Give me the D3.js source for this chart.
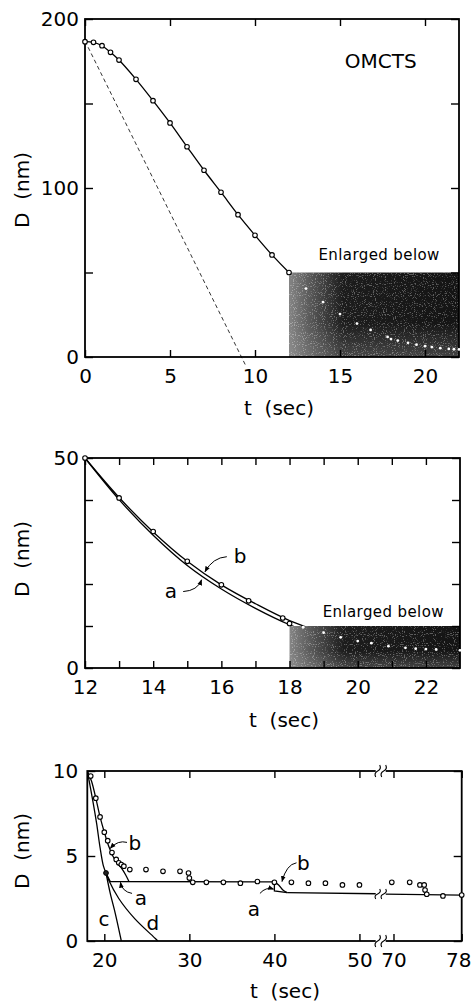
<!DOCTYPE html>
<html>
<head>
<meta charset="utf-8">
<script src="https://cdn.jsdelivr.net/npm/d3@7"></script>
<style>
  html, body { margin: 0; padding: 0; background: #fff; }
  svg { display: block; }
</style>
</head>
<body>
<svg id="chart"></svg>
<script>
// measured gap D (nm) against time t (sec), OMCTS
const tMeas = [0, 0.5, 1, 1.5, 2, 3, 4, 5, 6, 7, 8, 9, 10, 11, 12, 13, 14, 15, 16, 16.8, 17.8, 18, 18.4,
  19, 19.5, 20, 20.4, 20.9, 21.4, 21.7, 22, 22.3, 23, 24.9, 26.9, 28.9, 29.9, 30, 30.4,
  32, 34, 36, 38, 40, 42, 44, 46, 48, 50, 69.8, 71.9, 73.1, 73.6, 73.7, 73.9, 75.8, 78];
const dMeas = [186.6, 186.2, 184.2, 180.3, 175.7, 164.3, 151.7, 138.5, 124.4, 110.5, 97.5, 84.2, 72.0, 60.4, 50, 40.5, 32.5, 25.4, 19.8, 16, 11.9, 10.6, 9.7,
  8.4, 7.3, 6.4, 5.9, 5.2, 4.8, 4.6, 4.5, 4.4, 4.2, 4.2, 4.1, 4.1, 4.0, 3.7, 3.45,
  3.45, 3.45, 3.4, 3.5, 3.45, 3.45, 3.4, 3.4, 3.3, 3.3, 3.45, 3.45, 3.3, 3.3, 3.0, 2.75, 2.65, 2.7];

// dashed line in top panel
const tDash = [0, 9.45];
const dDash = [187, -5];

// middle panel model curves
const tCurve2 = [12, 13, 14, 15, 16, 17, 18, 19, 20, 21, 22, 23];
const dCurveB2 = [50, 40.6, 32.4, 25.4, 19.8, 15.3, 11.3, 8.4, 6.4, 5.0, 4.5, 4.2];
const dCurveA2 = [50, 40.1, 31.6, 24.4, 18.8, 14.2, 10.3, 7.4, 5.4, 4.1, 3.6, 3.5];

// bottom panel model curves
const tSteep = [18, 18.7, 19.1, 19.5, 19.9, 20.2];
const dSteep = [10, 8.1, 6.9, 5.5, 4.4, 4.0];
const tC = [20.2, 20.7, 21.3, 22];
const dC = [4.0, 2.8, 1.6, 0];
const tD = [20.2, 20.5, 21.7, 23.6, 26, 26.3];
const dD = [4.0, 3.6, 2.5, 1.3, 0.15, 0];
const tA = [20.2, 20.7, 40, 40, 41.5];
const dA = [4.0, 3.5, 3.48, 2.95, 2.85];
const tB = [18, 18.5, 19, 19.5, 20, 20.5, 21, 21.5, 22, 22.5, 22.9];
const dB = [10, 9.4, 8.4, 7.3, 6.4, 5.6, 5.0, 4.6, 4.3, 3.9, 3.5];
const tB40 = [40, 40.5, 41, 41.5];
const dB40 = [3.48, 3.3, 3.0, 2.85];
const tTail = [41.5, 52, 69, 78];
const dTail = [2.85, 2.78, 2.76, 2.7];
const jumpPoint = [20.2, 4.0];

// ticks
const xTicks1 = [0, 5, 10, 15, 20];
const yTicks1 = [0, 50, 100, 150, 200];
const yLabels1 = [0, 100, 200];
const xTicks2 = [12, 13, 14, 15, 16, 17, 18, 19, 20, 21, 22];
const xLabels2 = [12, 14, 16, 18, 20, 22];
const yTicks2 = [0, 10, 20, 30, 40, 50];
const yLabels2 = [0, 50];
const xTicks3L = [20, 30, 40, 50];
const xTicks3R = [70, 78];
const yTicks3 = [0, 5, 10];

const W = 472, H = 1003;
const FONT = "DejaVu Sans, sans-serif";
const zip = (a, b) => a.map((v, i) => [v, b[i]]);
const meas = zip(tMeas, dMeas);

const svg = d3.select("#chart").attr("width", W).attr("height", H)
  .attr("font-family", FONT);
svg.append("rect").attr("width", W).attr("height", H).attr("fill", "#fff");

const defs = svg.append("defs");

const grad = defs.append("linearGradient").attr("id", "shade")
  .attr("x1", 0).attr("y1", 0).attr("x2", 1).attr("y2", 0);
grad.append("stop").attr("offset", 0).attr("stop-color", "#858585");
grad.append("stop").attr("offset", 0.12).attr("stop-color", "#5a5a5a");
grad.append("stop").attr("offset", 0.32).attr("stop-color", "#1c1c1c");
grad.append("stop").attr("offset", 1).attr("stop-color", "#141414");

const gradB = defs.append("linearGradient").attr("id", "shadeBottom")
  .attr("x1", 0).attr("y1", 0).attr("x2", 0).attr("y2", 1);
gradB.append("stop").attr("offset", 0.6).attr("stop-color", "#999").attr("stop-opacity", 0);
gradB.append("stop").attr("offset", 1).attr("stop-color", "#999").attr("stop-opacity", 0.35);

const speck = defs.append("filter").attr("id", "speck")
  .attr("x", 0).attr("y", 0).attr("width", 1).attr("height", 1);
speck.append("feTurbulence").attr("type", "fractalNoise").attr("baseFrequency", 0.9)
  .attr("numOctaves", 1).attr("seed", 7).attr("result", "noise");
speck.append("feColorMatrix").attr("in", "noise").attr("type", "matrix")
  .attr("values", "0 0 0 0 1  0 0 0 0 1  0 0 0 0 1  0 0 0 9 -5.2");
speck.append("feComposite").attr("in2", "SourceGraphic").attr("operator", "in");

defs.append("marker").attr("id", "arrow")
  .attr("viewBox", "0 0 10 10").attr("refX", 9).attr("refY", 5)
  .attr("markerWidth", 6).attr("markerHeight", 6)
  .attr("markerUnits", "userSpaceOnUse").attr("orient", "auto")
  .append("path").attr("d", "M0,1 L10,5 L0,9 z").attr("fill", "#000");

function styleAxis(g, fs) {
  g.attr("font-size", null).attr("font-family", null);
  g.select(".domain").remove();
  g.selectAll(".tick line").attr("stroke", "#000").attr("stroke-width", 1.4);
  g.selectAll(".tick text").attr("font-size", fs).attr("fill", "#000");
}

function xAxes(g, x, box, ticks, labels) {
  const bottom = g.append("g").attr("transform", `translate(0,${box.bottom})`)
    .call(d3.axisBottom(x).tickValues(ticks).tickSize(-7).tickPadding(12)
      .tickFormat(v => labels.includes(v) ? v : ""))
    .call(styleAxis, 20);
  g.append("g").attr("transform", `translate(0,${box.top})`)
    .call(d3.axisTop(x).tickValues(ticks).tickSize(-7).tickFormat(""))
    .call(styleAxis, 20);
  return bottom;
}

function yAxes(g, y, box, ticks, labels, pad) {
  g.append("g").attr("transform", `translate(${box.left},0)`)
    .call(d3.axisLeft(y).tickValues(ticks).tickSize(-8).tickPadding(pad)
      .tickFormat(v => labels.includes(v) ? v : ""))
    .call(styleAxis, 20);
  g.append("g").attr("transform", `translate(${box.right},0)`)
    .call(d3.axisRight(y).tickValues(ticks).tickSize(-8).tickFormat(""))
    .call(styleAxis, 20);
}

function frame(g, box) {
  g.append("rect").attr("x", box.left).attr("y", box.top)
    .attr("width", box.right - box.left).attr("height", box.bottom - box.top)
    .attr("fill", "none").attr("stroke", "#000").attr("stroke-width", 1.8);
}

function titles(g, box, cx, baseX, cy) {
  g.append("text").attr("x", cx).attr("y", baseX).attr("text-anchor", "middle")
    .attr("font-size", 20).style("white-space", "pre").text("t  (sec)");
  g.append("text").attr("transform", `translate(29,${cy}) rotate(-90)`)
    .attr("text-anchor", "middle").attr("font-size", 20)
    .style("white-space", "pre").text("D  (nm)");
}

function shade(g, x0, y0, x1, y1) {
  const r = { x: x0, y: y0, width: x1 - x0, height: y1 - y0 };
  const s = g.append("g");
  s.append("rect").attr("x", r.x).attr("y", r.y).attr("width", r.width).attr("height", r.height)
    .attr("fill", "url(#shade)");
  s.append("rect").attr("x", r.x).attr("y", r.y).attr("width", r.width).attr("height", r.height)
    .attr("fill", "url(#shadeBottom)");
  s.append("rect").attr("x", r.x).attr("y", r.y).attr("width", r.width).attr("height", r.height)
    .attr("fill", "#000").attr("filter", "url(#speck)").attr("opacity", 0.3);
}

function drawPoints(g, pts, x, y, inShade) {
  g.selectAll(null).data(pts.filter(p => inShade(p))).enter().append("circle")
    .attr("cx", d => x(d[0])).attr("cy", d => y(d[1])).attr("r", 1.4).attr("fill", "#fff");
  g.selectAll(null).data(pts.filter(p => !inShade(p))).enter().append("circle")
    .attr("cx", d => x(d[0])).attr("cy", d => y(d[1])).attr("r", 2.3)
    .attr("fill", "#fff").attr("stroke", "#000").attr("stroke-width", 1.1);
}

function leader(g, from, ctrl, to) {
  g.append("path")
    .attr("d", `M${from[0]},${from[1]} Q${ctrl[0]},${ctrl[1]} ${to[0]},${to[1]}`)
    .attr("fill", "none").attr("stroke", "#000").attr("stroke-width", 1)
    .attr("marker-end", "url(#arrow)");
}

function label(g, px, py, txt, fs, anchor) {
  g.append("text").attr("x", px).attr("y", py).attr("text-anchor", anchor || "middle")
    .attr("font-size", fs).text(txt);
}

// ---------- panel 1 ----------
const box1 = { left: 85, right: 459, top: 19, bottom: 357 };
const x1 = d3.scaleLinear().domain([0, 22]).range([box1.left, box1.right]);
const y1 = d3.scaleLinear().domain([0, 200]).range([box1.bottom, box1.top]);
const g1 = svg.append("g");

g1.append("path").datum(zip(tDash, dDash))
  .attr("d", d3.line().x(d => x1(d[0])).y(d => y1(d[1])))
  .attr("fill", "none").attr("stroke", "#000").attr("stroke-width", 0.8)
  .attr("stroke-dasharray", "4,3");

const pts1 = meas.filter(p => p[0] <= 22);
g1.append("path").datum(pts1)
  .attr("d", d3.line().curve(d3.curveCatmullRom).x(d => x1(d[0])).y(d => y1(d[1])))
  .attr("fill", "none").attr("stroke", "#000").attr("stroke-width", 1.3);

shade(g1, x1(12), y1(50), x1(22), y1(0));
xAxes(g1, x1, box1, xTicks1, xTicks1);
yAxes(g1, y1, box1, yTicks1, yLabels1, 6);
frame(g1, box1);
drawPoints(g1, pts1, x1, y1, p => p[0] > 12.2 && p[1] < 50);
label(g1, x1(17.4), y1(171), "OMCTS", 20);
g1.append("text").attr("x", x1(17.3)).attr("y", y1(57.4)).attr("text-anchor", "middle")
  .attr("font-size", 15).attr("letter-spacing", 0.4).text("Enlarged below");
titles(g1, box1, 279, 415, 190);

// ---------- panel 2 ----------
const box2 = { left: 85, right: 460, top: 458, bottom: 668 };
const x2 = d3.scaleLinear().domain([12, 23]).range([box2.left, box2.right]);
const y2 = d3.scaleLinear().domain([0, 50]).range([box2.bottom, box2.top]);
const g2 = svg.append("g");
const line2 = d3.line().curve(d3.curveCatmullRom).x(d => x2(d[0])).y(d => y2(d[1]));

g2.append("path").datum(zip(tCurve2, dCurveA2)).attr("d", line2)
  .attr("fill", "none").attr("stroke", "#000").attr("stroke-width", 1.3);
g2.append("path").datum(zip(tCurve2, dCurveB2)).attr("d", line2)
  .attr("fill", "none").attr("stroke", "#000").attr("stroke-width", 1.3);

shade(g2, x2(18), y2(10), x2(23), y2(0));
xAxes(g2, x2, box2, xTicks2, xLabels2);
yAxes(g2, y2, box2, yTicks2, yLabels2, 6);
frame(g2, box2);
drawPoints(g2, meas.filter(p => p[0] >= 12 && p[0] <= 23), x2, y2, p => p[0] > 18.2 && p[1] < 10);

label(g2, x2(16.55), y2(25.0), "b", 20);
leader(g2, [x2(16.16), y2(26.5)], [x2(15.75), y2(26.3)], [x2(15.52), y2(22.9)]);
label(g2, x2(14.52), y2(16.7), "a", 20);
leader(g2, [x2(14.88), y2(18.2)], [x2(15.3), y2(18.4)], [x2(15.42), y2(21.0)]);
g2.append("text").attr("x", x2(20.75)).attr("y", y2(12.1)).attr("text-anchor", "middle")
  .attr("font-size", 15).attr("letter-spacing", 0.4).text("Enlarged below");
titles(g2, box2, 284, 727, 559);

// ---------- panel 3 (broken axis) ----------
const box3 = { left: 87.3, right: 461.7, top: 771, bottom: 941 };
const breakX = 380.7;
const x3L = d3.scaleLinear().domain([18, 52.5]).range([box3.left, breakX]);
const x3R = d3.scaleLinear().domain([68.5, 78]).range([breakX, box3.right]);
const x3 = t => (t <= 60 ? x3L(t) : x3R(t));
const y3 = d3.scaleLinear().domain([0, 10]).range([box3.bottom, box3.top]);
const g3 = svg.append("g");

const clip = defs.append("clipPath").attr("id", "clip3");
clip.append("rect").attr("x", box3.left).attr("y", box3.top)
  .attr("width", box3.right - box3.left).attr("height", box3.bottom - box3.top);

const curves3 = g3.append("g").attr("clip-path", "url(#clip3)");
const smooth3 = d3.line().curve(d3.curveCatmullRom).x(d => x3(d[0])).y(d => y3(d[1]));
const straight3 = d3.line().x(d => x3(d[0])).y(d => y3(d[1]));
const stroke3 = p => p.attr("fill", "none").attr("stroke", "#000").attr("stroke-width", 1.3);

curves3.append("path").datum(zip(tSteep, dSteep)).attr("d", smooth3).call(stroke3);
curves3.append("path").datum(zip(tC, dC)).attr("d", smooth3).call(stroke3);
curves3.append("path").datum(zip(tD, dD)).attr("d", smooth3).call(stroke3);
curves3.append("path").datum(zip(tA, dA)).attr("d", straight3).call(stroke3);
curves3.append("path").datum(zip(tB, dB)).attr("d", smooth3).call(stroke3);
curves3.append("path").datum(zip(tB40, dB40)).attr("d", smooth3).call(stroke3);
const tail = zip(tTail, dTail);
curves3.append("path").datum(tail.filter(p => p[0] <= 52.5)).attr("d", straight3).call(stroke3);
curves3.append("path").datum(tail.filter(p => p[0] >= 68.5)).attr("d", straight3).call(stroke3);

xAxes(g3, x3L, box3, xTicks3L, xTicks3L);
const axR = xAxes(g3, x3R, box3, xTicks3R, xTicks3R);
// keep the last label inside the picture
axR.selectAll(".tick text").filter(d => d === 78).attr("text-anchor", "end").attr("x", W - box3.right - 1);
yAxes(g3, y3, box3, yTicks3, yTicks3, 9);
frame(g3, box3);

// break marks on the time axis and on the plateau line
function breakMarks(g, cy, h) {
  g.append("rect").attr("x", breakX - 5).attr("y", cy - 2).attr("width", 10).attr("height", 4)
    .attr("fill", "#fff");
  [-3, 3].forEach(dx => {
    const cx = breakX + dx;
    g.append("path")
      .attr("d", `M${cx - 2},${cy + h} Q${cx - 4},${cy + h / 3} ${cx},${cy} Q${cx + 4},${cy - h / 3} ${cx + 2},${cy - h}`)
      .attr("fill", "none").attr("stroke", "#000").attr("stroke-width", 1.1);
  });
}
breakMarks(g3, box3.top, 6);
breakMarks(g3, box3.bottom, 6);
breakMarks(g3, y3(2.77), 5);

const pts3 = meas.filter(p => p[0] >= 18 && p[1] <= 10 && (p[0] <= 52.5 || p[0] >= 68.5));
drawPoints(g3, pts3, x3, y3, () => false);
g3.append("circle").attr("cx", x3(jumpPoint[0])).attr("cy", y3(jumpPoint[1])).attr("r", 2.4)
  .attr("fill", "#222").attr("stroke", "#000");

label(g3, x3(23.6), y3(5.35), "b", 20);
leader(g3, [x3(22.67), y3(5.8)], [x3(21.6), y3(5.95)], [x3(20.7), y3(5.45)]);
label(g3, x3(24.3), y3(2.1), "a", 20);
leader(g3, [x3(23.26), y3(2.8)], [x3(22.1), y3(2.9)], [x3(21.9), y3(3.45)]);
label(g3, x3(19.96), y3(0.9), "c", 20);
label(g3, x3(25.7), y3(0.65), "d", 20);
label(g3, x3(43.4), y3(4.2), "b", 20);
leader(g3, [x3(42.6), y3(4.6)], [x3(41.4), y3(4.5)], [x3(40.9), y3(3.5)]);
label(g3, x3(37.6), y3(1.5), "a", 20);
leader(g3, [x3(38.3), y3(2.8)], [x3(39.0), y3(3.2)], [x3(39.9), y3(3.05)]);
titles(g3, box3, 285, 998, 851);
</script>
</body>
</html>
